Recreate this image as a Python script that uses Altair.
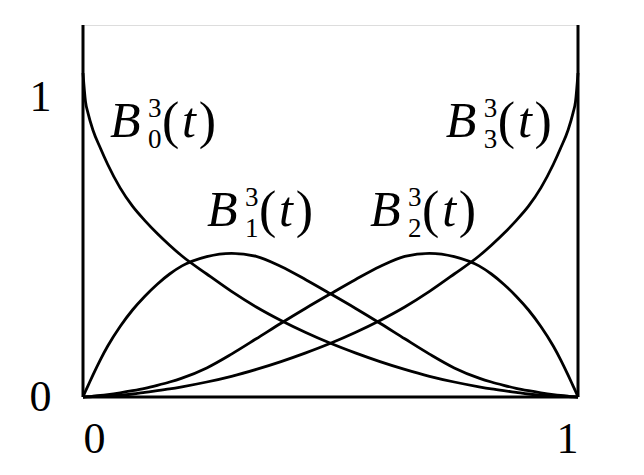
import altair as alt
import pandas as pd

# parameter grid
t = [0, 0.005, 0.01, 0.02, 0.035, 0.05, 0.075, 0.1, 0.125, 0.15,
     0.175, 0.2, 0.25, 0.3, 0.35, 0.4, 0.45, 0.5, 0.55, 0.6,
     0.65, 0.7, 0.75, 0.8, 0.825, 0.85, 0.875, 0.9, 0.925, 0.95,
     0.965, 0.98, 0.99, 0.995, 1.0]

# curve values
b0 = [1.08, 0.985, 0.947, 0.89, 0.83, 0.775, 0.697, 0.636, 0.588, 0.545,
      0.506, 0.47, 0.41, 0.352, 0.300, 0.255, 0.215, 0.179, 0.147, 0.118,
      0.092, 0.069, 0.05, 0.034, 0.027, 0.021, 0.0155, 0.010, 0.0065, 0.0035,
      0.002, 0.001, 0.0004, 0.0001, 0]
b1 = [0, 0.019, 0.037, 0.073, 0.124, 0.17, 0.235, 0.29, 0.336, 0.376,
      0.41, 0.437, 0.468, 0.479, 0.469, 0.435, 0.391, 0.344, 0.296, 0.246,
      0.194, 0.143, 0.097, 0.063, 0.05, 0.039, 0.029, 0.021, 0.014, 0.008,
      0.005, 0.0025, 0.001, 0.0004, 0]
b2 = [0, 0.0004, 0.001, 0.0025, 0.005, 0.008, 0.014, 0.021, 0.029, 0.039,
      0.05, 0.063, 0.097, 0.143, 0.194, 0.246, 0.296, 0.344, 0.391, 0.435,
      0.469, 0.479, 0.468, 0.437, 0.41, 0.376, 0.336, 0.29, 0.235, 0.17,
      0.124, 0.073, 0.037, 0.019, 0]
b3 = [0, 0.0001, 0.0004, 0.001, 0.002, 0.0035, 0.0065, 0.010, 0.0155, 0.021,
      0.027, 0.034, 0.05, 0.069, 0.092, 0.118, 0.147, 0.179, 0.215, 0.255,
      0.300, 0.352, 0.41, 0.47, 0.506, 0.545, 0.588, 0.636, 0.697, 0.775,
      0.83, 0.89, 0.947, 0.985, 1.08]

series = ["B0", "B1", "B2", "B3"]

# curve labels: anchor (left of "B", baseline) and subscript
label_sub = ["0", "1", "2", "3"]
label_t = [0.0545, 0.2505, 0.580, 0.733]
label_v = [0.867, 0.57, 0.57, 0.867]

x_ticks = [0, 1]
y_ticks = [0, 1]
y_top = 1.24

rows = []
for name, vals in zip(series, [b0, b1, b2, b3]):
    for ti, vi in zip(t, vals):
        rows.append({"series": name, "t": ti, "v": vi})
curves = pd.DataFrame(rows)
labels = pd.DataFrame({"sub": label_sub, "t": label_t, "v": label_v})

FONT = "Liberation Serif"
xs = alt.Scale(domain=[0, 1], nice=False, zero=False)
ys = alt.Scale(domain=[0, y_top], nice=False, zero=False)

lines = alt.Chart(curves).mark_line(
    color="black", strokeWidth=2.8, interpolate="monotone"
).encode(
    x=alt.X("t:Q", scale=xs,
            axis=alt.Axis(values=x_ticks, title=None, grid=False, domain=False,
                          ticks=False, labelFont=FONT, labelFontSize=44,
                          labelPadding=20, labelColor="black", format="d")),
    y=alt.Y("v:Q", scale=ys,
            axis=alt.Axis(values=y_ticks, title=None, grid=False, domain=False,
                          ticks=False, labelFont=FONT, labelFontSize=44,
                          labelPadding=32, labelColor="black", format="d",
                          labelBaseline="middle")),
    detail="series:N",
)

frame_df = pd.DataFrame({"x": [0, 1], "y0": [0, 0], "y1": [y_top, y_top]})
verticals = alt.Chart(frame_df).mark_rule(color="black", strokeWidth=3).encode(
    x=alt.X("x:Q", scale=xs), y=alt.Y("y0:Q", scale=ys), y2="y1:Q"
)
bottom_df = pd.DataFrame({"x0": [0], "x1": [1], "y": [0]})
bottom = alt.Chart(bottom_df).mark_rule(color="black", strokeWidth=3).encode(
    x=alt.X("x0:Q", scale=xs), x2="x1:Q", y=alt.Y("y:Q", scale=ys)
)

base = alt.Chart(labels).encode(x=alt.X("t:Q", scale=xs), y=alt.Y("v:Q", scale=ys))
small = 27
lab_B = base.mark_text(text="B", font=FONT, fontStyle="italic", fontSize=50,
                       align="left", baseline="alphabetic", color="black")
lab_sup = base.mark_text(text="3", font=FONT, fontSize=small, align="left",
                         baseline="alphabetic", dx=38, dy=-20, color="black")
lab_sub = base.mark_text(font=FONT, fontSize=small, align="left",
                         baseline="alphabetic", dx=38, dy=11, color="black").encode(text="sub:N")
lab_lp = base.mark_text(text="(", font=FONT, fontSize=52, align="left",
                        baseline="alphabetic", dx=52, dy=1, color="black")
lab_t = base.mark_text(text="t", font=FONT, fontStyle="italic", fontSize=50,
                       align="center", baseline="alphabetic", dx=79, color="black")
lab_rp = base.mark_text(text=")", font=FONT, fontSize=52, align="right",
                        baseline="alphabetic", dx=106, dy=1, color="black")

chart = alt.layer(
    lines, verticals, bottom, lab_B, lab_sup, lab_sub, lab_lp, lab_t, lab_rp
).properties(
    width=495, height=372,
    autosize=alt.AutoSizeParams(type="none"),
    padding={"left": 75, "top": 17, "right": 50, "bottom": 70},
).configure_view(stroke=None).configure(background="white")

chart.save("out.html", embed_options={"renderer": "svg", "actions": False})
